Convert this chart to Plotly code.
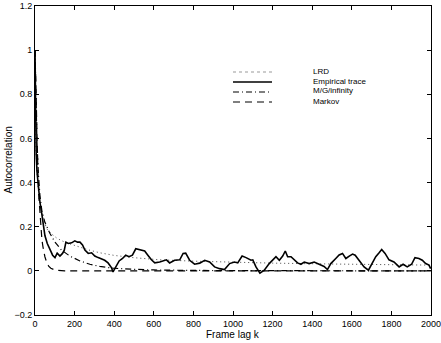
import plotly.graph_objects as go

# ---------------- data ----------------
emp_lag = [0, 1, 2, 4, 6, 10, 17, 25, 34, 42, 50, 62, 75, 89, 101, 112, 126, 139, 148, 156,
           168, 185, 201, 215, 227, 240, 252, 269, 286, 302, 319, 336, 352, 369, 386, 394,
           408, 425, 442, 458, 475, 492, 509, 529, 554, 571, 588, 605, 630, 664, 680, 705,
           731, 748, 761, 781, 806, 832, 857, 882, 907, 932, 957, 983, 1007, 1024, 1046,
           1066, 1091, 1100, 1116, 1136, 1158, 1183, 1200, 1217, 1234, 1251, 1264, 1276,
           1293, 1309, 1326, 1343, 1360, 1385, 1410, 1435, 1460, 1477, 1494, 1519, 1536,
           1553, 1570, 1587, 1604, 1617, 1637, 1662, 1684, 1701, 1721, 1738, 1751, 1768,
           1788, 1813, 1839, 1859, 1880, 1902, 1919, 1939, 1956, 1973, 1990, 1998]
emp_val = [1.0, 0.86, 0.74, 0.62, 0.53, 0.45, 0.37, 0.31, 0.26, 0.215, 0.16, 0.124, 0.094,
           0.071, 0.06, 0.08, 0.067, 0.079, 0.094, 0.13, 0.124, 0.127, 0.136, 0.13, 0.13,
           0.117, 0.094, 0.079, 0.082, 0.067, 0.06, 0.052, 0.048, 0.036, 0.015, -0.005,
           0.018, 0.045, 0.056, 0.071, 0.064, 0.071, 0.10, 0.095, 0.09, 0.07, 0.05, 0.036,
           0.04, 0.05, 0.036, 0.048, 0.05, 0.079, 0.08, 0.048, 0.03, 0.035, 0.048, 0.04,
           0.018, 0.01, 0.006, 0.033, 0.04, 0.036, 0.067, 0.06, 0.048, 0.05, 0.018, -0.01,
           0.003, 0.033, 0.048, 0.064, 0.048, 0.067, 0.09, 0.064, 0.064, 0.05, 0.036, 0.03,
           0.04, 0.033, 0.04, 0.03, 0.02, 0.006, 0.033, 0.056, 0.072, 0.079, 0.056, 0.067,
           0.076, 0.071, 0.048, 0.018, 0.003, 0.033, 0.064, 0.082, 0.097, 0.079, 0.05, 0.04,
           0.018, 0.03, 0.018, 0.03, 0.06, 0.056, 0.048, 0.033, 0.026, 0.01]

lrd_lag = [0, 5, 10, 20, 40, 60, 80, 112, 150, 211, 270, 327, 400, 495, 630, 800, 1000,
           1200, 1500, 1800, 2000]
lrd_val = [1.0, 0.55, 0.45, 0.33, 0.24, 0.19, 0.17, 0.147, 0.13, 0.112, 0.095, 0.082, 0.07,
           0.06, 0.05, 0.044, 0.039, 0.035, 0.031, 0.028, 0.026]

mg_lag = [0, 5, 10, 17, 25, 35, 50, 75, 101, 134, 176, 227, 277, 327, 394, 495, 600, 800,
          1000, 2000]
mg_val = [1.0, 0.75, 0.58, 0.44, 0.34, 0.27, 0.22, 0.17, 0.13, 0.094, 0.067, 0.045, 0.03,
          0.02, 0.012, 0.007, 0.004, 0.002, 0.001, 0.0]

mk_lag = [0, 5, 10, 15, 20, 25, 30, 35, 40, 50, 60, 70, 80, 100, 150, 2000]
mk_val = [1.0, 0.76, 0.57, 0.44, 0.33, 0.25, 0.19, 0.14, 0.11, 0.064, 0.036, 0.02, 0.012,
          0.004, 0.0, 0.0]

x_ticks = [0, 200, 400, 600, 800, 1000, 1200, 1400, 1600, 1800, 2000]
y_ticks = [-0.2, 0, 0.2, 0.4, 0.6, 0.8, 1, 1.2]
y_tick_text = ["\u22120.2", "0", "0.2", "0.4", "0.6", "0.8", "1", "1.2"]

legend_names = ["LRD", "Empirical trace", "M/G/infinity", "Markov"]

# ---------------- figure ----------------
FONT = "Liberation Sans, Arial, sans-serif"
fig = go.Figure()
fig.add_trace(go.Scatter(x=lrd_lag, y=lrd_val, mode="lines",
                         line=dict(color="#444", width=1, dash="1px,3px")))
fig.add_trace(go.Scatter(x=mk_lag, y=mk_val, mode="lines",
                         line=dict(color="black", width=1.2, dash="7px,5px")))
fig.add_trace(go.Scatter(x=mg_lag, y=mg_val, mode="lines",
                         line=dict(color="black", width=1.2, dash="6px,3px,1px,3px")))
fig.add_trace(go.Scatter(x=emp_lag, y=emp_val, mode="lines",
                         line=dict(color="black", width=1.6)))

L, R, T, B = 35, 10, 6, 28
W, H = 441, 343
pw, ph = W - L - R, H - T - B

def px_x(x):
    return (x - L) / pw

def px_y(y):
    return (H - B - y) / ph

# legend drawn as shapes + text
rows_y = [71, 81, 91, 101]
styles = [dict(color="#999", width=1, dash="dot"),
          dict(color="black", width=1.6),
          dict(color="black", width=1.2, dash="6px,3px,1px,3px"),
          dict(color="black", width=1.2, dash="7px,5px")]
for name, yy, st in zip(legend_names, rows_y, styles):
    fig.add_annotation(text=name, xref="paper", yref="paper", x=px_x(311), y=px_y(yy),
                       xanchor="left", yanchor="middle", showarrow=False,
                       font=dict(family=FONT, size=8, color="black"))
    fig.add_shape(type="line", xref="paper", yref="paper", x0=px_x(233), x1=px_x(272),
                  y0=px_y(yy + 1), y1=px_y(yy + 1), line=st)

fig.add_annotation(text="Autocorrelation", xref="paper", yref="paper", x=0, y=0.5,
                   xshift=-27, textangle=-90, showarrow=False, xanchor="center",
                   yanchor="middle", font=dict(family=FONT, size=10, color="black"))
fig.add_annotation(text="Frame lag k", xref="paper", yref="paper", x=0.5, y=0,
                   yshift=-19, showarrow=False, xanchor="center", yanchor="middle",
                   font=dict(family=FONT, size=10, color="black"))

axis_common = dict(showline=True, linecolor="black", linewidth=1, mirror="ticks",
                   ticks="inside", ticklen=4, tickcolor="black", showgrid=False,
                   zeroline=False, ticklabeloverflow="allow",
                   tickfont=dict(family=FONT, size=9, color="black"))
fig.update_xaxes(range=[0, 2000], tickvals=x_ticks, ticktext=[str(v) for v in x_ticks],
                 **axis_common)
fig.update_yaxes(range=[-0.2, 1.2], tickvals=y_ticks, ticktext=y_tick_text,
                 **axis_common)
fig.update_layout(width=W, height=H, margin=dict(l=L, r=R, t=T, b=B, autoexpand=False),
                  paper_bgcolor="white", plot_bgcolor="white", showlegend=False)

fig.write_html("out.html", config={"displayModeBar": False},
               post_script="document.body.style.margin='0px';document.body.style.padding='0px';")
